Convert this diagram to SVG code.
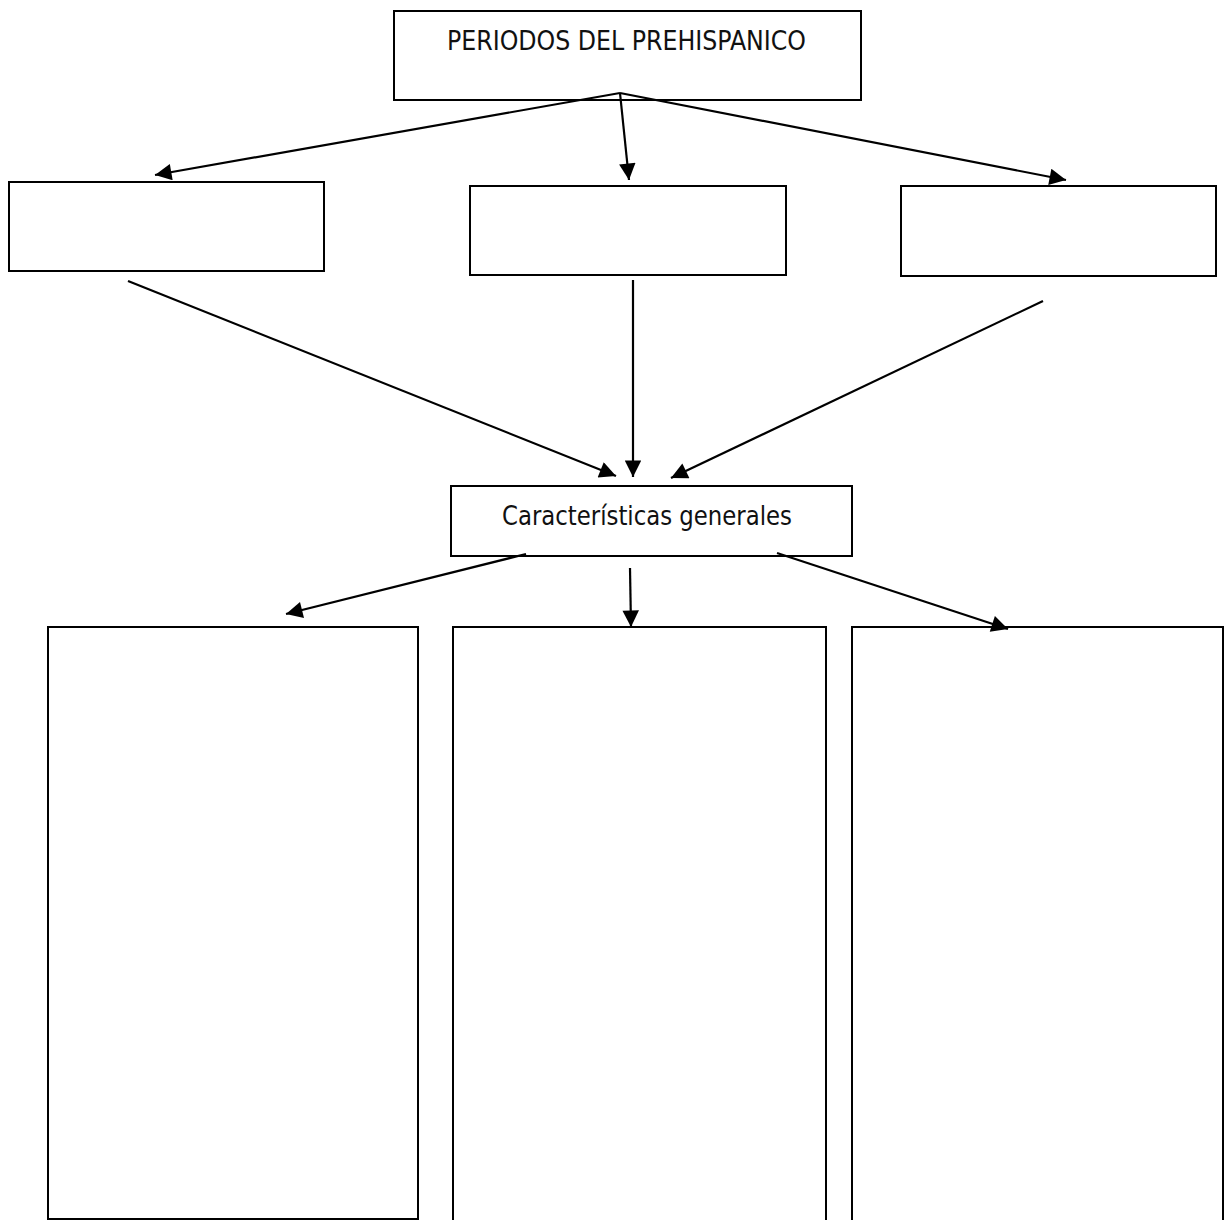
<svg xmlns="http://www.w3.org/2000/svg" width="1225" height="1220" viewBox="0 0 1225 1220">
<style>
.box{fill:#fff;stroke:#000;stroke-width:2}
.c{stroke:#000;stroke-width:2.2;fill:none}
.t{font-family:"DejaVu Sans Condensed","DejaVu Sans",sans-serif;font-size:27px;fill:#111}
</style>
<defs>
<marker id="a" viewBox="0 0 10 10" refX="10" refY="5" markerWidth="8" markerHeight="7.5" markerUnits="strokeWidth" orient="auto">
<path d="M0,0 L10,5 L0,10 z" fill="#000"/>
</marker>
</defs>
<rect width="1225" height="1220" fill="#fff"/>
<g id="n-top"><rect class="box" x="394" y="11" width="467" height="89"/><text class="t" x="447" y="50" textLength="359" lengthAdjust="spacingAndGlyphs">PERIODOS DEL PREHISPANICO</text></g>
<g id="n-p1"><rect class="box" x="9" y="182" width="315" height="89"/></g>
<g id="n-p2"><rect class="box" x="470" y="186" width="316" height="89"/></g>
<g id="n-p3"><rect class="box" x="901" y="186" width="315" height="90"/></g>
<g id="n-car"><rect class="box" x="451" y="486" width="401" height="70"/><text class="t" x="502" y="525" textLength="290" lengthAdjust="spacingAndGlyphs">Características generales</text></g>
<g id="n-b1"><rect class="box" x="48" y="627" width="370" height="592"/></g>
<g id="n-b2"><rect class="box" x="453" y="627" width="373" height="600"/></g>
<g id="n-b3"><rect class="box" x="852" y="627" width="371" height="600"/></g>
<g id="connectors">
<line class="c" x1="620" y1="93" x2="155" y2="175" marker-end="url(#a)"/>
<line class="c" x1="620" y1="93" x2="629" y2="180" marker-end="url(#a)"/>
<line class="c" x1="620" y1="93" x2="1066" y2="180" marker-end="url(#a)"/>
<line class="c" x1="128" y1="281" x2="616" y2="476" marker-end="url(#a)"/>
<line class="c" x1="633" y1="280" x2="633" y2="477" marker-end="url(#a)"/>
<line class="c" x1="1043" y1="301" x2="671" y2="478" marker-end="url(#a)"/>
<line class="c" x1="526" y1="554" x2="286" y2="614" marker-end="url(#a)"/>
<line class="c" x1="630" y1="568" x2="631" y2="627" marker-end="url(#a)"/>
<line class="c" x1="777" y1="553" x2="1008" y2="629" marker-end="url(#a)"/>
</g>
</svg>
